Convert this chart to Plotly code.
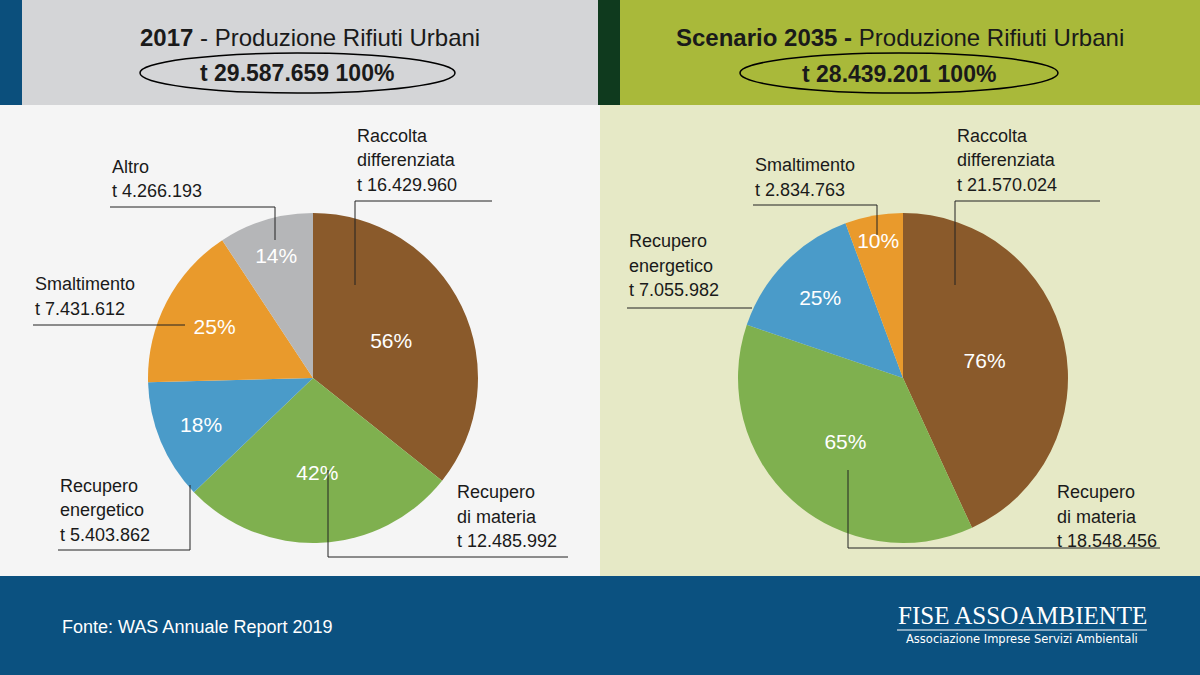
import plotly.graph_objects as go

W, H = 1200, 675
# data
cats_2017 = ["Raccolta differenziata", "Recupero di materia", "Recupero energetico", "Smaltimento", "Altro"]
vals_2017 = [16429960, 12485992, 5403862, 7431612, 4266193]
pct_2017 = ["56%", "42%", "18%", "25%", "14%"]
cols_2017 = ["#8a5a2b", "#7fb04f", "#4a9bc9", "#e99a2c", "#b5b6b8"]
cats_2035 = ["Raccolta differenziata", "Recupero di materia", "Recupero energetico", "Smaltimento"]
vals_2035 = [21570024, 18548456, 7055982, 2834763]
pct_2035 = ["76%", "65%", "25%", "10%"]
cols_2035 = ["#8a5a2b", "#7fb04f", "#4a9bc9", "#e99a2c"]

def px(x): return x / W
def py(y): return 1 - y / H

fig = go.Figure()
def pie(vals, pct, cols, cx):
    r = 165
    fig.add_trace(go.Pie(values=vals, text=pct, texttemplate="%{text}", textinfo="text",
        marker=dict(colors=cols, line=dict(width=0)), sort=False, direction="clockwise",
        rotation=0, textposition="inside", insidetextorientation="horizontal",
        textfont=dict(color="white", size=21, family="Liberation Sans"),
        domain=dict(x=[px(cx - r), px(cx + r)], y=[py(378 + r), py(378 - r)]),
        showlegend=False, hoverinfo="skip"))
pie(vals_2017, pct_2017, cols_2017, 313)
pie(vals_2035, pct_2035, cols_2035, 903)

shapes = []
def rect(x0, y0, x1, y1, c):
    shapes.append(dict(type="rect", xref="paper", yref="paper", x0=px(x0), x1=px(x1),
                       y0=py(y1), y1=py(y0), fillcolor=c, line=dict(width=0), layer="below"))
rect(0, 0, 22, 105, "#0b4f7c"); rect(22, 0, 598, 105, "#d4d5d7")
rect(598, 0, 620, 105, "#0f3a1e"); rect(620, 0, 1200, 105, "#a9b93a")
rect(0, 105, 600, 576, "#f5f5f5"); rect(600, 105, 1200, 576, "#e6e9c6")
rect(0, 576, 1200, 675, "#0b5180")
for x0, x1 in [(140, 455), (740, 1058)]:
    shapes.append(dict(type="circle", xref="paper", yref="paper", x0=px(x0), x1=px(x1),
                       y0=py(93), y1=py(53), line=dict(color="black", width=1.5)))
def line(pts):
    for (a, b), (c, d) in zip(pts[:-1], pts[1:]):
        shapes.append(dict(type="line", xref="paper", yref="paper", x0=px(a), y0=py(b),
                           x1=px(c), y1=py(d), line=dict(color="#222", width=1)))
line([(492, 201), (355, 201), (355, 285)])
line([(110, 207), (275, 207), (275, 240)])
line([(33, 325), (185, 325)])
line([(58, 550), (190, 550), (190, 485)])
line([(568, 557), (328, 557), (328, 470)])
line([(1100, 201), (955, 201), (955, 285)])
line([(753, 205), (877, 205), (877, 235)])
line([(627, 308), (752, 308)])
line([(1160, 548), (848, 548), (848, 470)])
line([(897, 630), (1147, 630)])
shapes[-1]["line"] = dict(color="white", width=1)

ann = []
def txt(x, y, s, size=18, color="#1a1a1a", anchor="left", fam="Liberation Sans"):
    ann.append(dict(x=px(x), y=py(y), xref="paper", yref="paper", text=s, showarrow=False,
                    xanchor=anchor, yanchor="middle", align="left",
                    font=dict(size=size, color=color, family=fam)))
txt(310, 37, "<b>2017</b> - Produzione Rifiuti Urbani", 24, anchor="center")
txt(297, 73, "<b>t 29.587.659 100%</b>", 23, anchor="center")
txt(900, 37, "<b>Scenario 2035 -</b> Produzione Rifiuti Urbani", 24, anchor="center")
txt(899, 74, "<b>t 28.439.201 100%</b>", 23, anchor="center")
def block(x, y0, lines):
    for i, l in enumerate(lines):
        txt(x, y0 + i * 24.5, l)
block(355, 136, ["Raccolta", "differenziata", "t 16.429.960"])
block(110, 167, ["Altro", "t 4.266.193"])
block(33, 284, ["Smaltimento", "t 7.431.612"])
block(58, 486, ["Recupero", "energetico", "t 5.403.862"])
block(455, 492, ["Recupero", "di materia", "t 12.485.992"])
block(955, 136, ["Raccolta", "differenziata", "t 21.570.024"])
block(753, 165, ["Smaltimento", "t 2.834.763"])
block(627, 241, ["Recupero", "energetico", "t 7.055.982"])
block(1055, 492, ["Recupero", "di materia", "t 18.548.456"])
txt(60, 627, "Fonte: WAS Annuale Report 2019", 18, "white")
txt(1022, 615, "FISE ASSOAMBIENTE", 25, "white", "center", "Liberation Serif")
txt(1022, 639, "Associazione Imprese Servizi Ambientali", 11.5, "white", "center", "DejaVu Sans")

fig.update_layout(width=W, height=H, margin=dict(l=0, r=0, t=0, b=0),
                  paper_bgcolor="white", plot_bgcolor="white",
                  shapes=shapes, annotations=ann)
fig.write_html("out.html", config={"displayModeBar": False},
               post_script="document.body.style.margin='0';document.body.style.overflow='hidden';")
